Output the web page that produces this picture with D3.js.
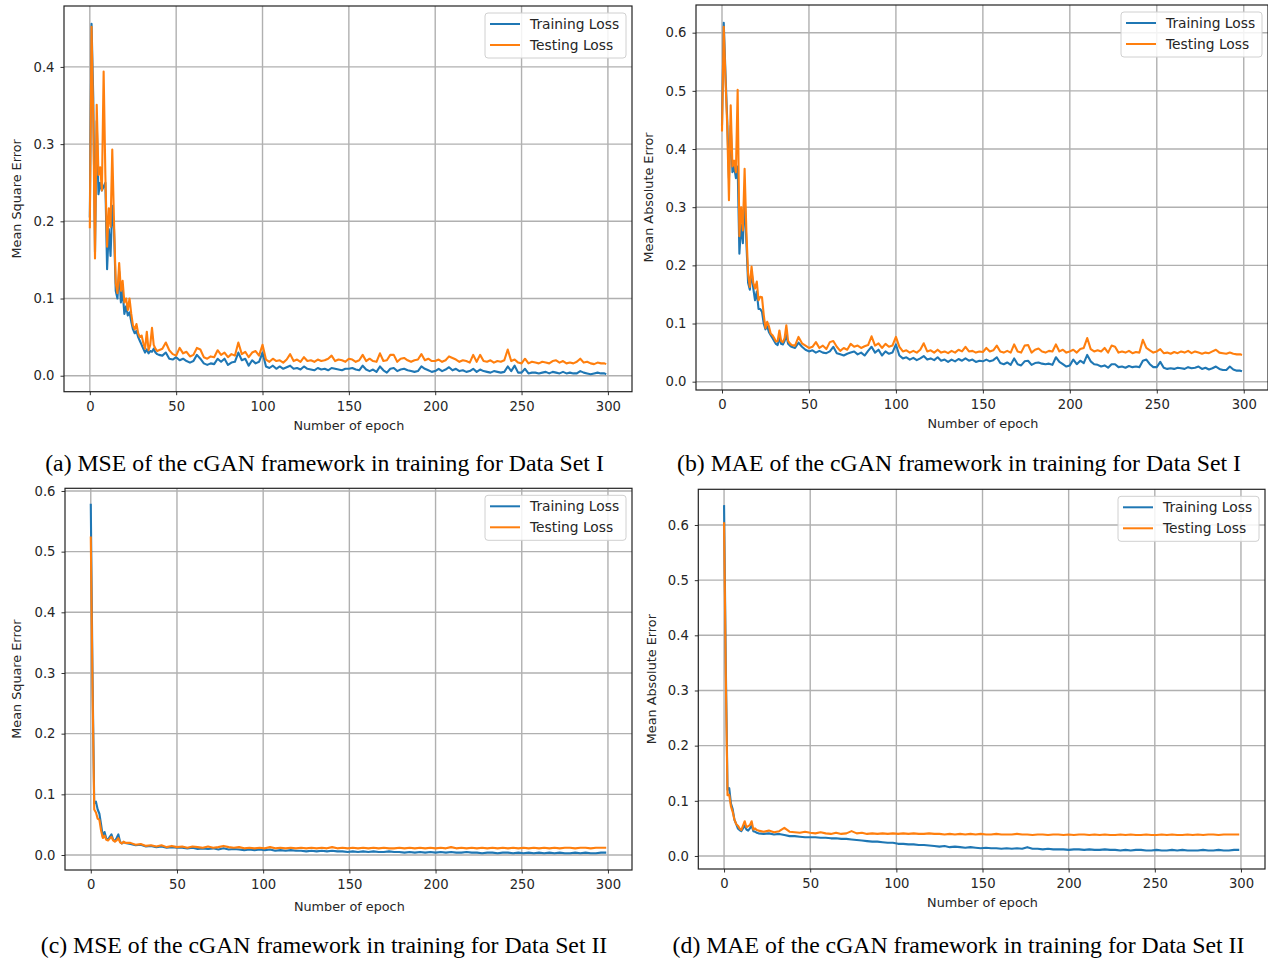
<!DOCTYPE html>
<html><head><meta charset="utf-8">
<script src="https://cdn.jsdelivr.net/npm/d3@7"></script>
<style>body{margin:0;background:#fff}svg{display:block}</style>
</head><body><svg id="c" width="1268" height="959"></svg>
<script>
// x sampling (epochs)
const epochsSetI = d3.range(0,41).concat(d3.range(42,299,2),[299]);
const epochsSetII = d3.range(0,21).concat(d3.range(23,297,3),[299]);
const xTicks = [0,50,100,150,200,250,300];
const seriesNames = ["Training Loss","Testing Loss"];

const mseITrain = [0.205,0.456,0.36,0.16,0.33,0.235,0.25,0.24,0.245,0.25,0.138,0.19,0.155,0.22,0.19,0.11,0.10,0.135,0.095,0.11,0.08,0.09,0.078,0.082,0.07,0.06,0.055,0.058,0.05,0.045,0.04,0.035,0.03,0.034,0.029,0.032,0.031,0.035,0.03,0.028,0.027,
0.026,0.03,0.022,0.021,0.024,0.02,0.022,0.019,0.017,0.019,0.027,0.022,0.016,0.014,0.016,0.015,0.022,0.018,0.022,0.014,0.017,0.018,0.03,0.02,0.022,0.013,0.02,0.016,0.018,0.03,
0.012,0.01,0.013,0.009,0.012,0.009,0.011,0.013,0.009,0.01,
0.008,0.012,0.009,0.008,0.007,0.01,0.008,0.009,0.007,0.01,
0.009,0.008,0.007,0.009,0.009,0.01,0.008,0.007,0.013,0.008,
0.006,0.008,0.005,0.012,0.007,0.004,0.009,0.01,0.006,0.008,
0.009,0.007,0.006,0.005,0.006,0.012,0.009,0.007,0.005,0.006,
0.009,0.006,0.008,0.011,0.007,0.009,0.006,0.007,0.005,0.006,
0.009,0.005,0.008,0.006,0.005,0.004,0.006,0.005,0.004,0.005,
0.012,0.006,0.013,0.004,0.004,0.009,0.003,0.004,0.004,0.003,
0.004,0.005,0.003,0.005,0.004,0.003,0.005,0.003,0.004,0.003,
0.003,0.006,0.004,0.003,0.002,0.003,0.004,0.003,0.003,0.002];
const mseITest = [0.191,0.452,0.33,0.152,0.351,0.26,0.27,0.24,0.394,0.26,0.167,0.217,0.193,0.293,0.2,0.12,0.107,0.146,0.11,0.123,0.095,0.1,0.085,0.1,0.08,0.065,0.06,0.067,0.055,0.05,0.052,0.042,0.035,0.057,0.033,0.04,0.062,0.04,0.035,0.032,0.033,
0.035,0.043,0.033,0.028,0.026,0.036,0.029,0.031,0.025,0.027,0.036,0.034,0.024,0.022,0.025,0.024,0.033,0.027,0.03,0.024,0.028,0.026,0.043,0.028,0.031,0.024,0.03,0.032,0.026,0.04,
0.021,0.018,0.022,0.019,0.02,0.017,0.021,0.028,0.019,0.021,
0.018,0.024,0.019,0.02,0.018,0.021,0.019,0.02,0.022,0.026,
0.019,0.021,0.02,0.018,0.022,0.021,0.018,0.02,0.027,0.019,
0.022,0.019,0.018,0.029,0.019,0.02,0.027,0.027,0.018,0.022,
0.023,0.02,0.018,0.02,0.021,0.028,0.02,0.022,0.019,0.019,
0.021,0.018,0.02,0.025,0.023,0.021,0.018,0.02,0.019,0.017,
0.027,0.018,0.027,0.019,0.018,0.02,0.017,0.019,0.018,0.02,
0.034,0.019,0.021,0.017,0.016,0.022,0.016,0.018,0.017,0.016,
0.018,0.017,0.016,0.019,0.02,0.017,0.019,0.016,0.017,0.016,
0.018,0.022,0.017,0.018,0.016,0.015,0.017,0.016,0.016,0.015];

const maeITrain = [0.44,0.617,0.53,0.45,0.35,0.44,0.36,0.37,0.35,0.37,0.22,0.27,0.238,0.32,0.24,0.17,0.158,0.19,0.16,0.14,0.155,0.125,0.125,0.12,0.1,0.09,0.095,0.085,0.08,0.075,0.07,0.065,0.063,0.075,0.065,0.064,0.07,0.08,0.065,0.062,0.06,
0.058,0.067,0.06,0.055,0.052,0.054,0.05,0.053,0.05,0.049,0.052,0.06,0.049,0.047,0.045,0.048,0.05,0.052,0.047,0.05,0.045,0.053,0.06,0.05,0.055,0.045,0.052,0.048,0.05,0.064,
0.045,0.04,0.042,0.038,0.041,0.037,0.04,0.044,0.038,0.04,
0.037,0.042,0.036,0.038,0.034,0.038,0.035,0.039,0.036,0.04,
0.036,0.038,0.034,0.036,0.035,0.038,0.035,0.037,0.042,0.032,
0.03,0.033,0.029,0.04,0.03,0.028,0.035,0.036,0.029,0.032,
0.033,0.031,0.03,0.031,0.029,0.042,0.034,0.03,0.026,0.028,
0.038,0.03,0.036,0.032,0.046,0.035,0.03,0.029,0.026,0.028,
0.024,0.03,0.03,0.025,0.026,0.024,0.027,0.025,0.026,0.025,
0.036,0.038,0.03,0.025,0.025,0.034,0.024,0.022,0.023,0.022,
0.024,0.023,0.022,0.025,0.023,0.024,0.026,0.022,0.024,0.021,
0.023,0.026,0.022,0.02,0.02,0.026,0.021,0.019,0.019,0.018];
const maeITest = [0.43,0.61,0.52,0.44,0.312,0.475,0.37,0.38,0.36,0.502,0.25,0.3,0.26,0.366,0.26,0.186,0.163,0.198,0.17,0.16,0.172,0.14,0.146,0.145,0.115,0.092,0.103,0.095,0.083,0.08,0.075,0.069,0.07,0.088,0.07,0.068,0.075,0.097,0.07,0.066,0.063,
0.062,0.077,0.066,0.062,0.058,0.06,0.068,0.058,0.062,0.056,0.068,0.07,0.06,0.053,0.058,0.055,0.065,0.06,0.062,0.058,0.061,0.063,0.078,0.062,0.066,0.058,0.065,0.06,0.062,0.077,
0.06,0.052,0.054,0.05,0.053,0.05,0.055,0.066,0.052,0.054,
0.05,0.055,0.05,0.052,0.049,0.053,0.05,0.055,0.052,0.06,
0.052,0.053,0.05,0.052,0.051,0.058,0.052,0.054,0.062,0.052,
0.05,0.053,0.05,0.064,0.052,0.05,0.062,0.063,0.05,0.055,
0.057,0.052,0.05,0.053,0.052,0.064,0.052,0.055,0.05,0.052,
0.055,0.05,0.056,0.058,0.075,0.056,0.052,0.054,0.052,0.058,
0.05,0.062,0.06,0.05,0.052,0.05,0.053,0.049,0.051,0.05,
0.072,0.058,0.054,0.05,0.052,0.056,0.049,0.05,0.048,0.051,
0.049,0.052,0.05,0.053,0.049,0.052,0.05,0.048,0.05,0.049,
0.052,0.055,0.05,0.049,0.048,0.05,0.048,0.047,0.047,0.046];

const mseIITrain = [0.579,0.30,0.085,0.088,0.075,0.068,0.05,0.03,0.038,0.027,0.025,0.03,0.034,0.025,0.023,0.028,0.034,0.022,0.019,0.021,0.02,
0.018,0.016,0.017,0.014,0.015,0.013,0.014,0.012,0.013,0.012,
0.012,0.011,0.012,0.01,0.011,0.01,0.011,0.009,0.011,0.009,
0.01,0.009,0.008,0.009,0.008,0.009,0.008,0.009,0.007,0.008,
0.007,0.008,0.007,0.007,0.006,0.007,0.006,0.007,0.006,0.007,
0.006,0.006,0.005,0.006,0.005,0.006,0.005,0.006,0.005,0.005,
0.006,0.005,0.005,0.004,0.005,0.004,0.005,0.004,0.005,0.004,
0.005,0.004,0.005,0.004,0.004,0.005,0.004,0.004,0.003,0.004,
0.004,0.003,0.004,0.004,0.003,0.004,0.003,0.004,0.003,0.004,
0.003,0.004,0.003,0.004,0.003,0.003,0.004,0.003,0.004,0.003,
0.003,0.004,0.004];
const mseIITest = [0.525,0.28,0.075,0.07,0.06,0.058,0.04,0.028,0.032,0.025,0.024,0.027,0.03,0.024,0.022,0.024,0.028,0.021,0.019,0.022,0.02,
0.02,0.017,0.018,0.015,0.016,0.014,0.016,0.013,0.015,0.013,
0.014,0.012,0.014,0.013,0.012,0.014,0.012,0.013,0.015,0.013,
0.012,0.013,0.011,0.012,0.011,0.012,0.011,0.013,0.011,0.012,
0.011,0.012,0.011,0.012,0.011,0.012,0.011,0.012,0.011,0.013,
0.011,0.012,0.011,0.012,0.011,0.012,0.011,0.012,0.011,0.012,
0.011,0.011,0.012,0.011,0.012,0.011,0.012,0.011,0.012,0.011,
0.012,0.011,0.013,0.011,0.012,0.011,0.012,0.011,0.012,0.011,
0.012,0.011,0.012,0.011,0.012,0.011,0.012,0.011,0.012,0.011,
0.012,0.011,0.012,0.011,0.012,0.012,0.011,0.012,0.012,0.011,
0.012,0.012,0.012];

const maeIITrain = [0.636,0.35,0.12,0.123,0.095,0.085,0.066,0.058,0.05,0.047,0.045,0.05,0.055,0.048,0.046,0.05,0.055,0.045,0.044,0.042,0.041,
0.04,0.041,0.039,0.04,0.038,0.036,0.036,0.035,0.034,0.034,
0.034,0.033,0.033,0.032,0.032,0.031,0.031,0.03,0.029,0.028,
0.027,0.026,0.026,0.025,0.024,0.024,0.022,0.022,0.021,0.021,
0.02,0.02,0.019,0.018,0.017,0.018,0.016,0.017,0.016,0.015,
0.016,0.015,0.014,0.015,0.014,0.014,0.013,0.014,0.013,0.014,
0.013,0.016,0.013,0.013,0.012,0.013,0.012,0.012,0.012,0.011,
0.012,0.012,0.011,0.012,0.011,0.011,0.012,0.011,0.011,0.01,
0.011,0.01,0.011,0.011,0.01,0.01,0.011,0.01,0.01,0.011,
0.01,0.011,0.01,0.01,0.01,0.011,0.01,0.01,0.011,0.01,
0.01,0.011,0.011];
const maeIITest = [0.605,0.33,0.11,0.111,0.09,0.08,0.066,0.058,0.055,0.05,0.047,0.055,0.063,0.052,0.054,0.056,0.063,0.048,0.05,0.047,0.046,
0.044,0.046,0.043,0.045,0.051,0.044,0.043,0.042,0.044,0.042,
0.041,0.043,0.041,0.04,0.042,0.04,0.041,0.045,0.041,0.042,
0.04,0.041,0.04,0.041,0.04,0.041,0.04,0.041,0.04,0.041,
0.04,0.04,0.041,0.04,0.04,0.039,0.04,0.039,0.04,0.039,
0.04,0.039,0.04,0.039,0.039,0.04,0.039,0.039,0.039,0.04,
0.039,0.039,0.038,0.039,0.039,0.038,0.039,0.039,0.038,0.039,
0.038,0.039,0.039,0.038,0.039,0.038,0.039,0.038,0.038,0.039,
0.038,0.039,0.038,0.038,0.039,0.038,0.038,0.039,0.038,0.039,
0.038,0.038,0.039,0.038,0.039,0.038,0.039,0.039,0.038,0.039,
0.039,0.039,0.039];

const yTicksMSEI = [0.0,0.1,0.2,0.3,0.4];
const yTicksMAEI = [0.0,0.1,0.2,0.3,0.4,0.5,0.6];
const yTicksII = [0.0,0.1,0.2,0.3,0.4,0.5,0.6];

const panels = [
  {box:[64,6,632,391.7], yDom:[-0.0207,0.4789], epochs:epochsSetI, train:mseITrain, test:mseITest, yTicks:yTicksMSEI,
   ylabel:"Mean Square Error", ylabelX:17, xlabelY:426, caption:"(a) MSE of the cGAN framework in training for Data Set I", capX:324.5, capY:463},
  {box:[696,5,1268,390], yDom:[-0.0143,0.6476], epochs:epochsSetI, train:maeITrain, test:maeITest, yTicks:yTicksMAEI,
   ylabel:"Mean Absolute Error", ylabelX:649, xlabelY:424, caption:"(b) MAE of the cGAN framework in training for Data Set I", capX:959, capY:463},
  {box:[65,488.3,632,870], yDom:[-0.0247,0.6044], epochs:epochsSetII, train:mseIITrain, test:mseIITest, yTicks:yTicksII,
   ylabel:"Mean Square Error", ylabelX:17, xlabelY:907, caption:"(c) MSE of the cGAN framework in training for Data Set II", capX:324, capY:945},
  {box:[698.3,489.3,1265,869], yDom:[-0.0236,0.6647], epochs:epochsSetII, train:maeIITrain, test:maeIITest, yTicks:yTicksII,
   ylabel:"Mean Absolute Error", ylabelX:652, xlabelY:903, caption:"(d) MAE of the cGAN framework in training for Data Set II", capX:958.5, capY:945}
];

const colors = ["#1f77b4","#ff7f0e"];
const svg = d3.select("#c");
const sans = "'DejaVu Sans', sans-serif";
const textCol = "#262626";

panels.forEach(p => {
  const [L,T,R,B] = p.box;
  const x = d3.scaleLinear().domain([-14.95,313.95]).range([L,R]);
  const y = d3.scaleLinear().domain(p.yDom).range([B,T]);
  const g = svg.append("g");
  // grid
  g.selectAll(".gx").data(xTicks).join("line")
    .attr("x1",d=>x(d)).attr("x2",d=>x(d)).attr("y1",T).attr("y2",B)
    .attr("stroke","#b0b0b0").attr("stroke-width",1.4);
  g.selectAll(".gy").data(p.yTicks).join("line")
    .attr("x1",L).attr("x2",R).attr("y1",d=>y(d)).attr("y2",d=>y(d))
    .attr("stroke","#b0b0b0").attr("stroke-width",1.4);
  // lines
  [p.train,p.test].forEach((vals,i)=>{
    const pts = p.epochs.map((e,k)=>[e,vals[k]]).filter(d=>d[1]!==undefined);
    g.append("path").datum(pts)
      .attr("fill","none").attr("stroke",colors[i]).attr("stroke-width",2.1)
      .attr("stroke-linejoin","round")
      .attr("d",d3.line().x(d=>x(d[0])).y(d=>y(d[1])));
  });
  // axes
  const xa = g.append("g").attr("transform",`translate(0,${B})`)
    .call(d3.axisBottom(x).tickValues(xTicks).tickSize(3.5).tickPadding(6.5).tickFormat(d3.format("d")));
  const ya = g.append("g").attr("transform",`translate(${L},0)`)
    .call(d3.axisLeft(y).tickValues(p.yTicks).tickSize(3.5).tickPadding(6).tickFormat(d3.format(".1f")));
  [xa,ya].forEach(a=>{
    a.select(".domain").remove();
    a.selectAll("line").attr("stroke","#333").attr("stroke-width",1);
    a.selectAll("text").attr("fill",textCol).style("font-family",sans).style("font-size","13.2px");
  });
  // spines
  g.append("rect").attr("x",L).attr("y",T).attr("width",R-L).attr("height",B-T)
    .attr("fill","none").attr("stroke","#222").attr("stroke-width",1.2);
  // labels
  g.append("text").attr("x",x(150)).attr("y",p.xlabelY).attr("dy","0.35em")
    .attr("text-anchor","middle").attr("fill",textCol).style("font-family",sans).style("font-size","12.8px")
    .text("Number of epoch");
  g.append("text").attr("transform",`translate(${p.ylabelX},${(T+B)/2}) rotate(-90)`).attr("dy","0.35em")
    .attr("text-anchor","middle").attr("fill",textCol).style("font-family",sans).style("font-size","12.8px")
    .text(p.ylabel);
  // legend
  const lx = R-147, ly = T+7;
  const lg = g.append("g");
  lg.append("rect").attr("x",lx).attr("y",ly).attr("width",141).attr("height",45).attr("rx",3)
    .attr("fill","rgba(255,255,255,0.85)").attr("stroke","#d0d0d0").attr("stroke-width",1);
  seriesNames.forEach((nm,i)=>{
    const yy = ly + 11 + i*21;
    lg.append("line").attr("x1",lx+5).attr("x2",lx+35).attr("y1",yy).attr("y2",yy)
      .attr("stroke",colors[i]).attr("stroke-width",2);
    lg.append("text").attr("x",lx+45).attr("y",yy).attr("dy","0.35em")
      .attr("fill",textCol).style("font-family",sans).style("font-size","13.8px").text(nm);
  });
  // caption
  p.capEl = svg.append("text").attr("x",p.capX).attr("y",p.capY).attr("dy","0.35em")
    .attr("text-anchor","middle").attr("fill","#000")
    .style("font-family","'Liberation Serif','Times New Roman',serif").style("font-size","21px")
    .text(p.caption);
});
// fit caption font size so caption (a) spans its measured width
const wA = panels[0].capEl.node().getComputedTextLength();
const capSize = 21*559/wA;
panels.forEach(p=>p.capEl.style("font-size",capSize+"px"));
</script>
</body></html>
